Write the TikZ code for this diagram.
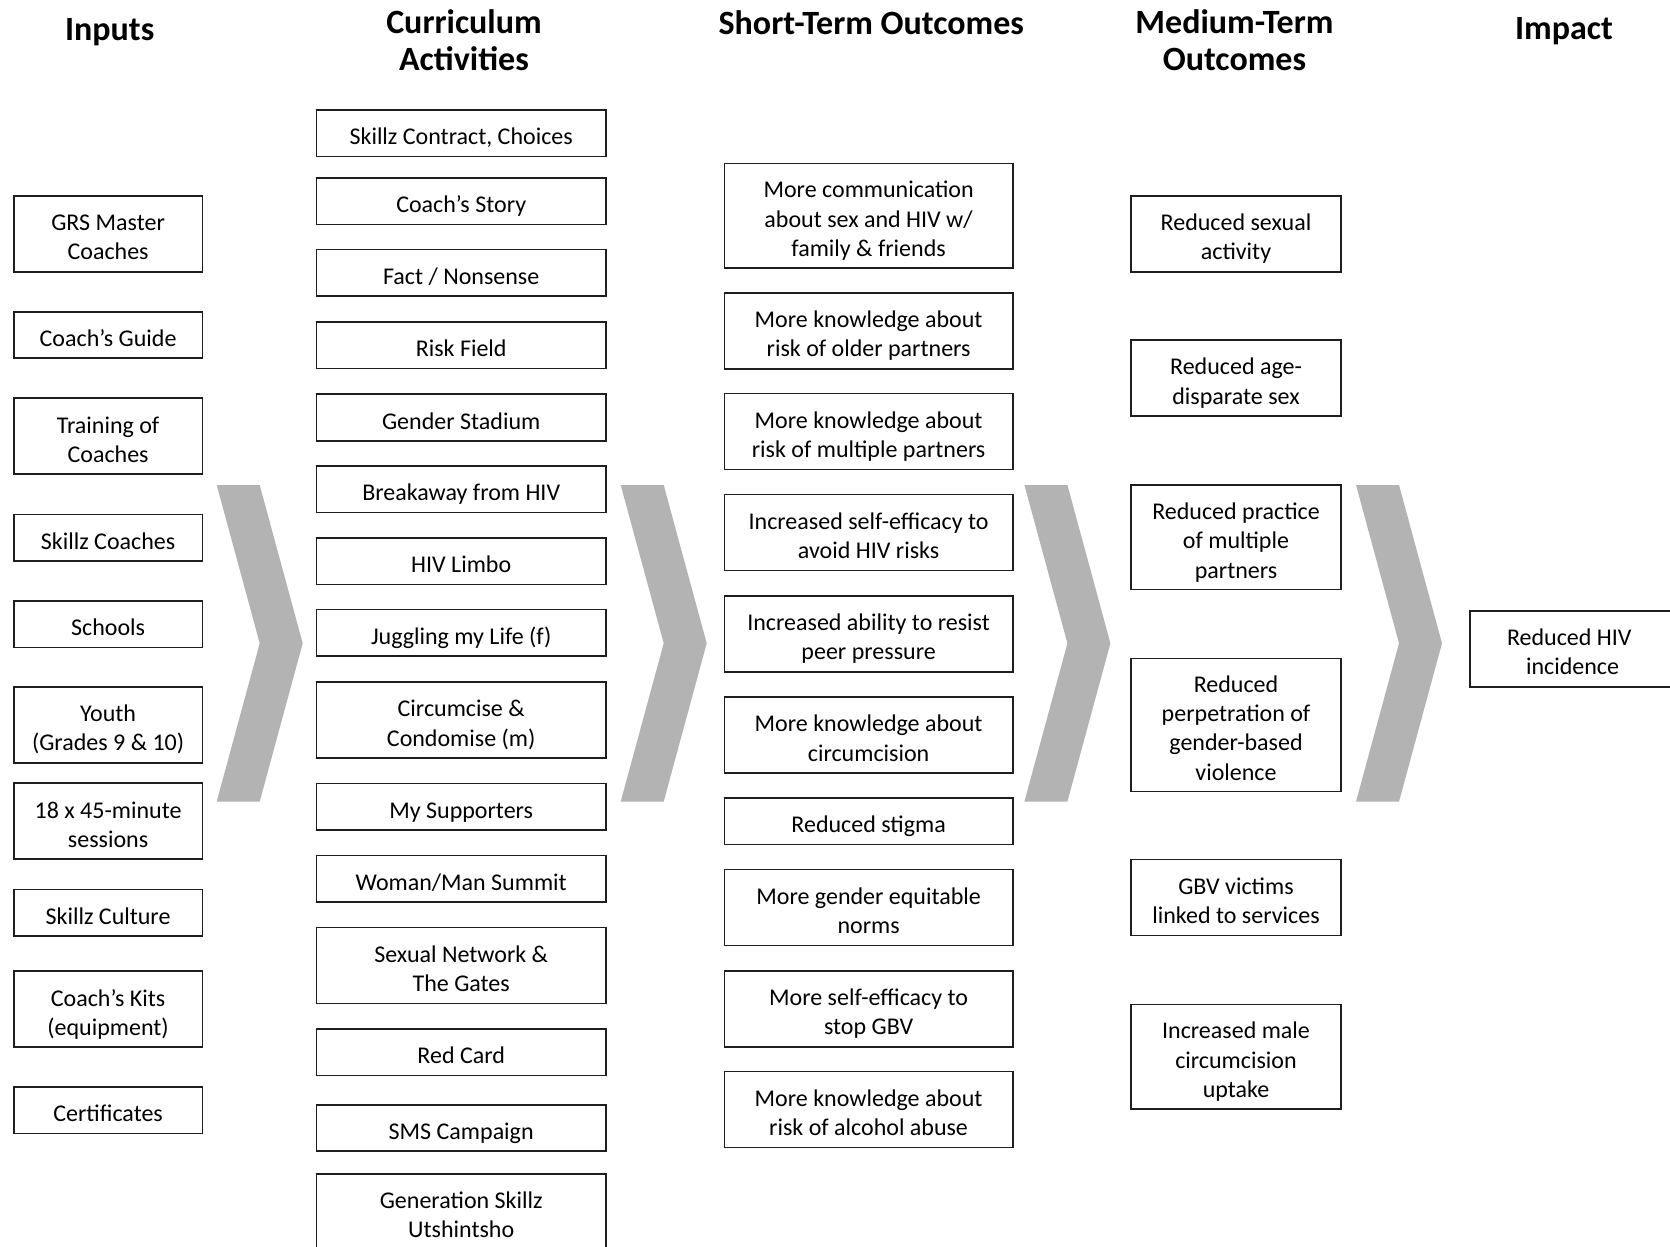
\documentclass[tikz,border=0pt]{standalone}
\usepackage{fontspec}
\setmainfont{Carlito}
\definecolor{chevgray}{RGB}{179,179,179}
\definecolor{boxline}{RGB}{30,30,30}
\newcommand\leftnudge{\leavevmode\rightskip=6.4pt plus 1fil\relax}
\tikzset{
  box/.style={draw=boxline, line width=1.6pt, fill=white, align=flush center, inner sep=0pt,
    font=\fontsize{24}{29.3}\selectfont,
    execute at begin node={\rule{0pt}{29pt}},
    execute at end node={\rule[-6pt]{0pt}{6pt}}},
  head/.style={align=flush center, inner sep=0pt, text width=500pt,
    font=\fontsize{34}{37}\selectfont\bfseries,
    execute at begin node={\rule{0pt}{30pt}},
    execute at end node={\rule[-8pt]{0pt}{8pt}}},
  one/.style={minimum height=46.5pt},
  two/.style={minimum height=76pt},
  three/.style={minimum height=104.5pt},
  four/.style={minimum height=133pt},
  colA/.style={box, minimum width=188.6pt, text width=182pt},
  colB/.style={box, minimum width=289.7pt, text width=282pt},
  colC/.style={box, minimum width=288.6pt, text width=282pt},
  colD/.style={box, minimum width=209.8pt, text width=204pt},
  colE/.style={box, minimum width=205pt, text width=198pt},
  chevron/.pic={\fill[chevgray] (0,-158.3) -- (43,-158.3) -- (86,0) -- (43,158.3) -- (0,158.3) -- (43,0) -- cycle;}
}
\begin{document}
\begin{tikzpicture}[x=1pt, y=-1pt]
\useasboundingbox (0,0) rectangle (1670,1247);
\fill[white] (0,0) rectangle (1670,1247);

% column headings
\node[head] (h1) at (109.7,29.5) {Inputs};
\node[head] (h2) at (464,41.5) {Curriculum\\Activities};
\node[head] (h3) at (871.3,24) {Short-Term Outcomes};
\node[head] (h4) at (1234.5,41) {Medium-Term\\Outcomes};
\node[head] (h5) at (1564,28.7) {Impact};

% chevrons between the columns
\pic at (216.7,643.3) {chevron};
\pic at (620.7,643.3) {chevron};
\pic at (1024.4,643.3) {chevron};
\pic at (1356,643.3) {chevron};

% inputs
\node[colA, two] (in1) at (108.1,233.8) {GRS Master\\Coaches};
\node[colA, one] (in2) at (108.1,335) {Coach’s Guide};
\node[colA, two] (in3) at (108.1,436.2) {Training of\\Coaches};
\node[colA, one] (in4) at (108.1,537.9) {Skillz Coaches};
\node[colA, one] (in5) at (108.1,624.2) {Schools};
\node[colA, two] (in6) at (108.1,724.8) {Youth\\(Grades 9 \& 10)};
\node[colA, two] (in7) at (108.1,821.2) {18 x 45-minute\\sessions};
\node[colA, one] (in8) at (108.1,912.8) {Skillz Culture};
\node[colA, two] (in9) at (108.1,1009.2) {Coach’s Kits\\(equipment)};
\node[colA, one] (in10) at (108.1,1110.4) {Certificates};

% curriculum activities
\node[colB, one] (ca1) at (461.2,133.1) {Skillz Contract, Choices};
\node[colB, one] (ca2) at (461.2,201.3) {Coach’s Story};
\node[colB, one] (ca3) at (461.2,272.7) {Fact / Nonsense};
\node[colB, one] (ca4) at (461.2,345.1) {Risk Field};
\node[colB, one] (ca5) at (461.2,417.5) {Gender Stadium};
\node[colB, one] (ca6) at (461.2,489.4) {Breakaway from HIV};
\node[colB, one] (ca7) at (461.2,561.3) {HIV Limbo};
\node[colB, one] (ca8) at (461.2,632.7) {Juggling my Life (f)};
\node[colB, two] (ca9) at (461.2,720) {Circumcise \&\\Condomise (m)};
\node[colB, one] (ca10) at (461.2,806.8) {My Supporters};
\node[colB, one] (ca11) at (461.2,878.7) {Woman/Man Summit};
\node[colB, two] (ca12) at (461.2,965.5) {Sexual Network \&\\The Gates};
\node[colB, one] (ca13) at (461.2,1052.3) {Red Card};
\node[colB, one] (ca14) at (461.2,1128) {SMS Campaign};
\node[colB, two] (ca15) at (461.2,1211.7) {Generation Skillz\\Utshintsho};

% short-term outcomes
\node[colC, three] (st1) at (868.6,215.7) {More communication\\about sex and HIV w/\\family \& friends};
\node[colC, two] (st2) at (868.6,330.7) {More knowledge about\\risk of older partners};
\node[colC, two] (st3) at (868.6,431.4) {More knowledge about\\risk of multiple partners};
\node[colC, two] (st4) at (868.6,532.6) {Increased self-efficacy to\\avoid HIV risks};
\node[colC, two] (st5) at (868.6,633.7) {Increased ability to resist\\peer pressure};
\node[colC, two] (st6) at (868.6,735) {More knowledge about\\circumcision};
\node[colC, one] (st7) at (868.6,821.2) {Reduced stigma};
\node[colC, two] (st8) at (868.6,907.5) {More gender equitable\\norms};
\node[colC, two] (st9) at (868.6,1008.7) {More self-efficacy to\\stop GBV};
\node[colC, two] (st10) at (868.6,1109.3) {More knowledge about\\risk of alcohol abuse};

% medium-term outcomes
\node[colD, two] (mt1) at (1236,233.8) {Reduced sexual\\activity};
\node[colD, two] (mt2) at (1236,378.1) {Reduced age-\\disparate sex};
\node[colD, three] (mt3) at (1236,537.3) {Reduced practice\\of multiple\\partners};
\node[colD, four] (mt4) at (1236,724.8) {Reduced\\perpetration of\\gender-based\\violence};
\node[colD, two] (mt5) at (1236,897.4) {GBV victims\\linked to services};
\node[colD, three] (mt6) at (1236,1056.6) {Increased male\\circumcision\\uptake};

% impact (the box runs past the right edge; its text sits a little left of centre)
\node[colE, two] (im1) at (1572.5,648.7) {\leftnudge Reduced HIV\\\leftnudge incidence};
\end{tikzpicture}
\end{document}
